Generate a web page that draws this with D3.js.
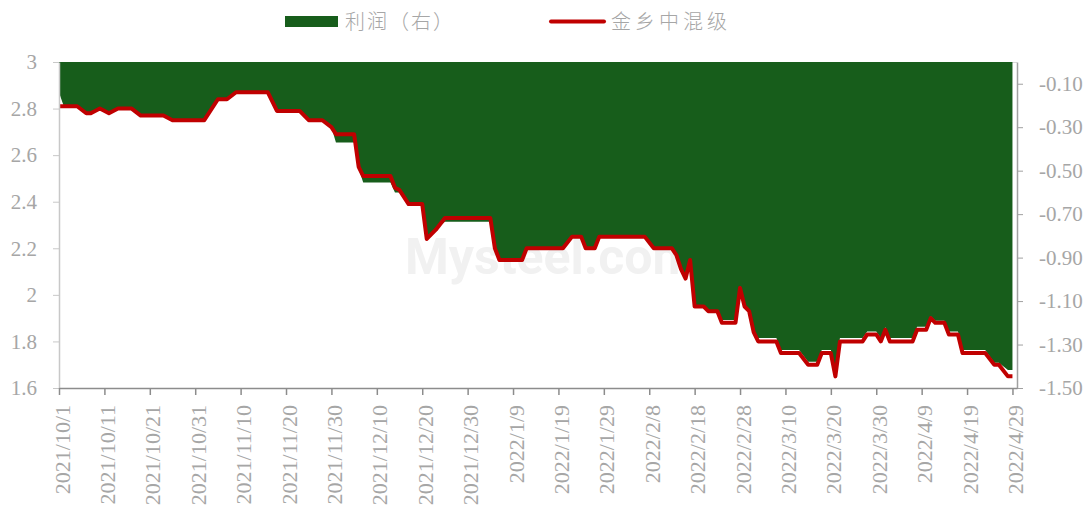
<!DOCTYPE html>
<html lang="zh">
  <head>
    <meta charset="UTF-8" />
    <title>利润与金乡中混级</title>
    <style>
      body { margin: 0; background: #fff; }
      svg text { font-family: "Liberation Serif", "Times New Roman", serif; }
      .legend text { font-family: "Noto Sans CJK SC", sans-serif; font-weight: 300; }
    </style>
  </head>
  <body>
    <svg id="svg" width="1091" height="511"></svg>
    <script src="https://d3js.org/d3.v7.min.js"></script>
    <script>
      // dates of the points (price turning points)
      const dates = [
        "2021-10-01", "2021-10-02", "2021-10-05", "2021-10-07", "2021-10-08", "2021-10-10",
        "2021-10-12", "2021-10-14", "2021-10-17", "2021-10-19", "2021-10-24", "2021-10-26",
        "2021-11-02", "2021-11-05", "2021-11-07", "2021-11-09", "2021-11-16", "2021-11-18",
        "2021-11-23", "2021-11-25", "2021-11-28", "2021-11-30", "2021-12-01", "2021-12-05",
        "2021-12-06", "2021-12-07", "2021-12-13", "2021-12-14", "2021-12-15", "2021-12-17",
        "2021-12-20", "2021-12-21", "2021-12-23", "2021-12-25", "2022-01-03", "2022-01-04",
        "2022-01-05", "2022-01-06", "2022-01-11", "2022-01-12", "2022-01-20", "2022-01-22",
        "2022-01-24", "2022-01-25", "2022-01-27", "2022-01-28", "2022-02-07", "2022-02-09",
        "2022-02-13", "2022-02-14", "2022-02-15", "2022-02-16", "2022-02-17", "2022-02-18",
        "2022-02-20", "2022-02-21", "2022-02-23", "2022-02-24", "2022-02-27", "2022-02-28",
        "2022-03-01", "2022-03-02", "2022-03-03", "2022-03-04", "2022-03-08", "2022-03-09",
        "2022-03-13", "2022-03-15", "2022-03-17", "2022-03-18", "2022-03-20", "2022-03-21",
        "2022-03-22", "2022-03-27", "2022-03-28", "2022-03-30", "2022-03-31", "2022-04-01",
        "2022-04-02", "2022-04-07", "2022-04-08", "2022-04-10", "2022-04-11", "2022-04-12",
        "2022-04-14", "2022-04-15", "2022-04-17", "2022-04-18", "2022-04-23", "2022-04-25",
        "2022-04-26", "2022-04-28", "2022-04-29"
      ];

      // 金乡中混级 (left axis)
      const price = [
        2.81, 2.81, 2.81, 2.78, 2.78, 2.80,
        2.78, 2.80, 2.80, 2.77, 2.77, 2.75,
        2.75, 2.84, 2.84, 2.87, 2.87, 2.79,
        2.79, 2.75, 2.75, 2.72, 2.69, 2.69,
        2.55, 2.51, 2.51, 2.46, 2.45, 2.39,
        2.39, 2.24, 2.28, 2.33, 2.33, 2.33,
        2.20, 2.15, 2.15, 2.20, 2.20, 2.25,
        2.25, 2.20, 2.20, 2.25, 2.25, 2.20,
        2.20, 2.17, 2.11, 2.07, 2.15, 1.95,
        1.95, 1.93, 1.93, 1.88, 1.88, 2.03,
        1.95, 1.93, 1.84, 1.80, 1.80, 1.75,
        1.75, 1.70, 1.70, 1.75, 1.75, 1.65,
        1.80, 1.80, 1.83, 1.83, 1.80, 1.85,
        1.80, 1.80, 1.85, 1.85, 1.90, 1.88,
        1.88, 1.83, 1.83, 1.75, 1.75, 1.70,
        1.70, 1.65, 1.65
      ];

      // 利润 (right axis)
      const profit = [
        -0.14, -0.20, -0.20, -0.24, -0.24, -0.21,
        -0.24, -0.21, -0.21, -0.25, -0.25, -0.27,
        -0.27, -0.17, -0.17, -0.14, -0.14, -0.23,
        -0.23, -0.27, -0.27, -0.30, -0.37, -0.37,
        -0.49, -0.555, -0.555, -0.60, -0.60, -0.66,
        -0.66, -0.81, -0.77, -0.735, -0.735, -0.735,
        -0.86, -0.91, -0.91, -0.86, -0.86, -0.80,
        -0.80, -0.86, -0.86, -0.80, -0.80, -0.86,
        -0.86, -0.89, -0.95, -0.995, -0.91, -1.125,
        -1.125, -1.147, -1.147, -1.187, -1.187, -1.03,
        -1.12, -1.14, -1.24, -1.27, -1.27, -1.325,
        -1.325, -1.379, -1.379, -1.325, -1.325, -1.44,
        -1.27, -1.27, -1.24, -1.24, -1.27, -1.22,
        -1.27, -1.27, -1.218, -1.218, -1.17, -1.19,
        -1.19, -1.24, -1.24, -1.325, -1.325, -1.384,
        -1.384, -1.417, -1.417
      ];

      const xTickLabels = [
        "2021/10/1", "2021/10/11", "2021/10/21", "2021/10/31", "2021/11/10", "2021/11/20",
        "2021/11/30", "2021/12/10", "2021/12/20", "2021/12/30", "2022/1/9", "2022/1/19",
        "2022/1/29", "2022/2/8", "2022/2/18", "2022/2/28", "2022/3/10", "2022/3/20",
        "2022/3/30", "2022/4/9", "2022/4/19", "2022/4/29"
      ];
      const leftTicks = [1.6, 1.8, 2, 2.2, 2.4, 2.6, 2.8, 3];
      const rightTicks = [-0.1, -0.3, -0.5, -0.7, -0.9, -1.1, -1.3, -1.5];

      const parseDate = d3.timeParse("%Y-%m-%d");
      const parseTick = d3.timeParse("%Y/%m/%d");

      const data = dates.map((d, i) => ({
        date: parseDate(d),
        price: price[i],
        profit: profit[i],
      }));

      const plot = { left: 59, right: 1017, top: 62, bottom: 388 };

      const svg = d3.select("#svg");

      const xScale = d3
        .scaleTime()
        .domain([parseDate("2021-10-01"), parseDate("2022-04-30")])
        .range([plot.left, plot.right]);

      const yLeft = d3.scaleLinear().domain([1.6, 3]).range([plot.bottom, plot.top]);
      const yRight = d3.scaleLinear().domain([-1.5, 0]).range([plot.bottom, plot.top]);

      // faint watermark
      svg
        .append("text")
        .attr("x", 405)
        .attr("y", 274)
        .attr("fill", "#f1f1f1")
        .style("font-family", "Roboto, sans-serif")
        .style("font-weight", "bold")
        .style("font-size", "50px")
        .text("Mysteel.com");

      // top border
      svg
        .append("line")
        .attr("x1", plot.left)
        .attr("x2", plot.right)
        .attr("y1", plot.top + 0.5)
        .attr("y2", plot.top + 0.5)
        .attr("stroke", "#d9d9d9");

      // profit area, hanging from zero
      const area = d3
        .area()
        .x((d) => xScale(d.date))
        .y0(yRight(0))
        .y1((d) => yRight(d.profit));

      svg
        .append("path")
        .datum(data)
        .attr("d", area)
        .attr("fill", "#175d1b");

      // price line
      const line = d3
        .line()
        .x((d) => xScale(d.date))
        .y((d) => yLeft(d.price));

      svg
        .append("path")
        .datum(data)
        .attr("d", line)
        .attr("fill", "none")
        .attr("stroke", "#c00000")
        .attr("stroke-width", 4)
        .attr("stroke-linejoin", "round");

      // left axis
      const leftAxis = svg
        .append("g")
        .attr("transform", `translate(${plot.left}, 0)`)
        .call(
          d3
            .axisLeft(yLeft)
            .tickValues(leftTicks)
            .tickFormat((d) => String(+d.toFixed(1)))
            .tickSize(6)
            .tickSizeOuter(0)
            .tickPadding(16)
        );
      leftAxis.select(".domain").attr("stroke", "#c8c8c8").attr("stroke-width", 1.5);
      leftAxis.selectAll(".tick line").attr("stroke", "#c8c8c8");
      leftAxis.selectAll("text").attr("fill", "#a6a6a6").style("font-size", "21px");

      // right axis
      const rightAxis = svg
        .append("g")
        .attr("transform", `translate(${plot.right}, 0)`)
        .call(
          d3
            .axisRight(yRight)
            .tickValues(rightTicks)
            .tickFormat((d) => d.toFixed(2))
            .tickSize(6)
            .tickSizeOuter(0)
            .tickPadding(16)
        );
      rightAxis.select(".domain").attr("stroke", "#a0a0a0").attr("stroke-width", 1.5);
      rightAxis.selectAll(".tick line").attr("stroke", "#a0a0a0");
      rightAxis.selectAll("text").attr("fill", "#a6a6a6").style("font-size", "21px");

      // bottom axis
      const bottomAxis = svg
        .append("g")
        .attr("transform", `translate(0, ${plot.bottom})`)
        .call(
          d3
            .axisBottom(xScale)
            .tickValues(xTickLabels.map(parseTick))
            .tickFormat((d, i) => xTickLabels[i])
            .tickSize(7)
            .tickSizeOuter(0)
        );
      bottomAxis.select(".domain").attr("stroke", "#8c8c8c").attr("stroke-width", 1.5);
      bottomAxis.selectAll(".tick line").attr("stroke", "#8c8c8c").attr("stroke-width", 1.5);
      bottomAxis
        .selectAll("text")
        .attr("fill", "#a6a6a6")
        .style("font-size", "22px")
        .attr("transform", "rotate(-90)")
        .attr("x", -17)
        .attr("y", 10)
        .attr("dy", 0)
        .style("text-anchor", "end");

      // legend
      const legend = svg.append("g").attr("class", "legend");
      legend
        .append("rect")
        .attr("x", 285)
        .attr("y", 16)
        .attr("width", 53)
        .attr("height", 11)
        .attr("fill", "#175d1b");
      legend
        .append("text")
        .attr("x", 345)
        .attr("y", 29)
        .attr("fill", "#a6a6a6")
        .style("font-size", "20px")
        .style("letter-spacing", "2px")
        .text("利润（右）");
      legend
        .append("line")
        .attr("x1", 551)
        .attr("x2", 604)
        .attr("y1", 21.5)
        .attr("y2", 21.5)
        .attr("stroke", "#c00000")
        .attr("stroke-width", 4)
        .attr("stroke-linecap", "round");
      legend
        .append("text")
        .attr("x", 611)
        .attr("y", 29)
        .attr("fill", "#a6a6a6")
        .style("font-size", "20px")
        .style("letter-spacing", "4px")
        .text("金乡中混级");
    </script>
  </body>
</html>
